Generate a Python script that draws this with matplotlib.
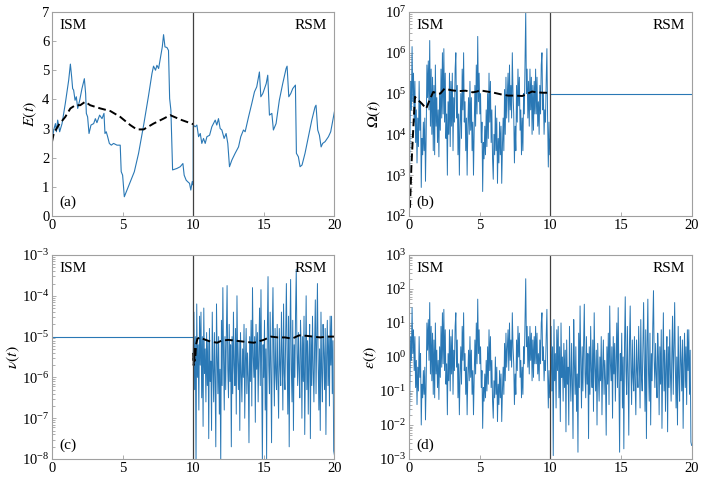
import numpy as np
import matplotlib
matplotlib.use("Agg")
import matplotlib.pyplot as plt

plt.rcParams['font.family'] = ['Liberation Serif', 'DejaVu Serif']
plt.rcParams['mathtext.fontset'] = 'stix'

# ---- data ----
t_switch = 10.0

# (a) energy, ISM part then RSM part
t_E = [0, 0.12, 0.24, 0.31, 0.4, 0.54, 0.71, 0.94, 1.18, 1.30, 1.39, 1.46, 1.53, 1.63, 1.72,
       1.82, 1.96, 2.12, 2.29, 2.38, 2.43, 2.52, 2.62, 2.76, 2.95, 3.07, 3.18, 3.37, 3.54,
       3.68, 3.75, 3.84, 3.94, 4.06, 4.2, 4.36, 4.6, 4.83, 4.9, 5.0, 5.12, 5.26, 5.54, 5.83,
       6.13, 6.49, 6.84, 7.08, 7.19, 7.33, 7.43, 7.55, 7.67, 7.81, 7.9, 8.0, 8.14, 8.25,
       8.33, 8.42, 8.54, 8.84, 9.08, 9.27, 9.36, 9.5, 9.6, 9.74, 9.83, 9.93, 10.0,
       10.0, 10.14, 10.26, 10.38, 10.5, 10.61, 10.73, 10.85, 10.97, 11.16, 11.32, 11.56,
       11.67, 11.79, 11.91, 12.03, 12.19, 12.33, 12.45, 12.57, 12.74, 12.97, 13.21, 13.37,
       13.56, 13.68, 13.92, 14.15, 14.34, 14.5, 14.69, 14.79, 14.93, 15.17, 15.28, 15.4,
       15.57, 15.68, 15.87, 16.1, 16.34, 16.58, 16.65, 16.77, 16.91, 17.05, 17.24, 17.31,
       17.45, 17.57, 17.71, 17.92, 18.16, 18.4, 18.63, 18.7, 18.82, 18.94, 19.06, 19.17,
       19.34, 19.58, 19.74, 20.0]
E_vals = [2.55, 2.95, 3.17, 2.89, 3.29, 2.89, 3.17, 3.86, 4.66, 5.21, 4.77, 4.37, 4.32, 3.97,
          4.09, 3.69, 3.97, 4.37, 4.71, 4.2, 3.52, 3.4, 2.83, 3.12, 3.17, 3.34, 3.2, 3.46,
          3.34, 3.52, 2.83, 2.89, 2.72, 2.49, 2.43, 2.49, 2.43, 2.43, 1.52, 1.4, 0.66, 0.83,
          1.18, 1.52, 2.15, 3.12, 4.14, 4.89, 5.14, 5.0, 5.17, 5.06, 5.4, 5.8, 6.22, 5.8,
          5.78, 5.68, 4.03, 3.63, 1.58, 1.63, 1.69, 1.8, 1.4, 1.23, 1.18, 1.12, 0.89, 1.18,
          1.06,
          3.12, 3.06, 3.12, 2.72, 2.83, 2.49, 2.66, 2.49, 2.72, 2.77, 3.06, 3.29, 3.12, 3.34,
          3.0, 2.95, 2.66, 2.83, 2.49, 1.69, 1.92, 2.15, 2.37, 2.72, 2.95, 2.89, 3.4, 3.86,
          4.26, 4.43, 4.94, 4.09, 4.2, 4.54, 4.83, 3.46, 3.52, 2.95, 3.17, 3.97, 4.54, 5.06,
          5.14, 4.09, 4.2, 4.37, 4.49, 2.15, 2.03, 1.69, 1.75, 2.15, 2.72, 3.29, 3.74, 3.8,
          2.95, 2.77, 2.37, 2.49, 2.55, 2.72, 2.89, 3.57]
t_E_mean = [0, 0.12, 0.47, 0.94, 1.3, 1.65, 2.0, 2.35, 2.7, 3.42, 4.13, 4.83, 5.54, 6.0,
            6.49, 7.19, 7.9, 8.37, 9.08, 10.0]
E_mean = [2.55, 2.83, 3.12, 3.4, 3.69, 3.8, 3.8, 3.92, 3.8, 3.69, 3.6, 3.4, 3.12, 2.97,
          2.97, 3.17, 3.34, 3.46, 3.31, 3.15]

# (b) enstrophy in ISM, log10 values every 0.05 from t=0 to t=10
t_omega = np.round(np.arange(0, 201) * 0.05, 2)
log_omega = [
    2.2, 4.0, 5.3, 4.6, 6.15, 4.8, 5.5, 4.3, 5.3, 3.8, 4.6, 3.3, 4.4, 3.7, 5.3, 4.1, 4.8, 2.7, 3.9, 3.5,
    4.3, 3.6, 4.4, 2.85, 4.0, 5.7, 4.9, 5.8, 4.6, 6.3, 4.2, 5.6, 4.0, 5.4, 3.6, 5.2, 3.5, 5.7, 4.2, 4.9,
    3.8, 4.6, 3.45, 5.0, 4.1, 5.6, 4.4, 6.0, 4.5, 6.1, 4.3, 5.5, 3.9, 4.5, 3.0, 4.8, 4.0, 5.5, 3.7, 5.3,
    4.2, 5.5, 3.6, 4.9, 4.3, 5.6, 6.0, 4.4, 5.2, 3.5, 4.5, 3.0, 4.2, 5.0, 3.9, 5.6, 4.6, 6.0, 4.3, 4.8,
    3.6, 4.4, 3.0, 4.2, 4.9, 4.0, 5.3, 4.1, 4.9, 3.6, 4.3, 3.0, 4.1, 5.2, 4.2, 5.7, 4.5, 6.4, 4.8, 5.5,
    4.5, 5.0, 3.8, 4.3, 2.6, 3.8, 3.4, 4.2, 3.5, 4.6, 3.7, 5.0, 3.9, 5.5, 4.3, 5.3, 3.8, 4.6, 3.4, 2.9,
    4.0, 3.5, 4.7, 3.6, 4.4, 2.8, 3.9, 3.3, 4.3, 3.5, 4.2, 2.8, 3.7, 4.4, 3.6, 5.1, 4.0, 5.4, 4.4, 5.0,
    5.5, 4.3, 5.7, 4.6, 5.2, 4.4, 6.0, 5.0, 4.5, 3.3, 4.2, 3.6, 5.2, 4.3, 5.6, 4.7, 5.4, 4.1, 4.6, 3.5,
    4.4, 3.6, 5.0, 4.5, 5.8, 7.0, 5.0, 5.6, 4.4, 5.3, 4.2, 5.6, 4.6, 5.4, 4.0, 5.2, 4.1, 5.3, 4.5, 5.6,
    4.5, 5.4, 4.2, 4.8, 4.0, 5.2, 4.5, 5.7, 6.0, 4.6, 5.0, 4.0, 4.6, 4.3, 5.3, 6.1, 4.4, 3.2, 4.3, 3.5,
    3.9]
omega_rsm = 1e5
t_omega_mean = [0.05, 0.15, 0.25, 0.4, 0.6, 0.9, 1.2, 1.45, 1.7, 2.0, 2.2, 2.5, 3.0, 3.5, 4.0,
                4.5, 4.8, 5.0, 5.5, 6.0, 6.5, 7.0, 7.5, 8.0, 8.4, 8.7, 9.0, 9.5, 10.0]
log_omega_mean = [2.2, 3.2, 3.9, 4.92, 4.85, 4.75, 4.63, 4.85, 5.04, 5.0, 5.0, 5.12, 5.08, 5.06,
                  5.07, 5.03, 5.05, 5.08, 5.05, 5.02, 4.98, 4.95, 4.95, 4.94, 5.0, 5.05, 5.03,
                  5.02, 5.02]

# (c) viscosity in RSM, log10 values every 0.05 from t=10 to t=20
t_nu = np.round(10 + np.arange(0, 201) * 0.05, 2)
log_nu = [
    -5.4, -4.4, -6.3, -5.0, -8.2, -4.2, -6.0, -5.2, -6.8, -4.5, -5.7, -4.4, -6.5, -5.0, -7.2, -4.3, -5.9, -5.3, -6.6, -4.9,
    -6.2, -5.1, -7.5, -4.8, -6.1, -5.6, -7.3, -4.4, -5.8, -6.6, -4.9, -6.0, -7.7, -4.2, -5.5, -6.4, -5.0, -6.9, -5.8, -8.1,
    -4.6, -6.2, -3.8, -5.5, -6.8, -5.0, -6.3, -4.9, -3.75, -5.8, -6.5, -4.7, -6.1, -5.2, -7.7, -5.0, -6.4, -4.4, -5.7, -6.2,
    -4.8, -6.9, -4.0, -5.6, -6.3, -5.1, -7.3, -4.9, -5.9, -6.6, -5.3, -6.0, -4.7, -7.0, -5.6, -4.8, -6.4, -5.4, -6.0, -7.6,
    -5.0, -6.1, -4.6, -6.7, -3.8, -5.5, -6.0, -5.0, -7.1, -4.7, -5.8, -4.9, -6.6, -5.4, -4.3, -6.2, -3.85, -5.9, -8.1, -5.2,
    -6.0, -4.6, -6.8, -5.3, -8.0, -4.9, -3.53, -5.7, -6.4, -4.4, -5.8, -7.6, -4.9, -3.8, -5.6, -6.7, -4.8, -5.9, -6.3, -4.7,
    -6.1, -7.0, -4.8, -5.7, -6.2, -4.4, -5.5, -6.8, -4.2, -5.9, -6.3, -4.9, -3.7, -5.5, -6.9, -4.5, -7.7, -5.0, -3.6, -5.8,
    -6.6, -4.6, -7.3, -5.2, -6.0, -4.4, -3.35, -5.4, -6.2, -4.9, -5.8, -6.5, -4.6, -5.3, -7.0, -5.0, -6.1, -4.5, -7.4, -5.6,
    -4.0, -6.3, -5.1, -6.9, -5.5, -4.7, -7.5, -5.0, -6.2, -4.5, -5.8, -6.6, -5.2, -4.1, -6.4, -5.0, -3.7, -5.6, -6.8, -5.3,
    -7.3, -4.4, -5.9, -6.6, -4.7, -5.4, -6.3, -4.8, -7.4, -5.5, -4.6, -6.2, -5.0, -6.7, -4.5, -5.7, -4.5, -6.4, -5.1, -7.8,
    -7.9]
nu_ism = 1e-5
t_nu_mean = [10.0, 10.03, 10.06, 10.09, 10.12, 10.15, 10.2, 10.3, 10.5, 10.8, 11.2, 11.7, 12.0,
             12.5, 13.0, 13.5, 14.0, 14.3, 15.0, 15.5, 16.0, 16.5, 17.0, 17.5, 18.0, 18.5,
             19.0, 19.5, 20.0]
log_nu_mean = [-5.4, -5.7, -5.3, -5.6, -5.35, -5.5, -5.2, -5.05, -5.02, -5.07, -5.12, -5.15,
               -5.1, -5.08, -5.1, -5.12, -5.14, -5.15, -5.08, -5.0, -5.02, -5.02, -5.05,
               -4.97, -4.98, -5.0, -5.02, -5.0, -5.0]

# (d) dissipation: eps = 2 nu Omega, with nu fixed in ISM and Omega fixed in RSM
omega = 10.0 ** np.array(log_omega)
nu = 10.0 ** np.array(log_nu)
t_eps = np.concatenate([t_omega, t_nu[1:]])
eps = np.concatenate([2 * nu_ism * omega, 2 * omega_rsm * nu[1:]])

# ---- plotting ----
blue = '#2a78b5'
spine_col = '#a0a0a0'

fig = plt.figure(figsize=(7.05, 4.83), dpi=100)
w, h = 0.4005, 0.4225
ax_a = fig.add_axes([0.0738, 0.5528, w, h])
ax_b = fig.add_axes([0.5805, 0.5528, w, h])
ax_c = fig.add_axes([0.0738, 0.0496, w, h])
ax_d = fig.add_axes([0.5805, 0.0496, w, h])

ax_a.plot(t_E, E_vals, color=blue, lw=0.8)
ax_a.plot(t_E_mean, E_mean, color='black', lw=1.4, ls=(0, (4, 2)))
ax_a.set_ylim(0, 7)
ax_a.set_yticks(range(0, 8))
ax_a.set_ylabel(r'$E(t)$', fontsize=11.5, labelpad=2)

ax_b.plot(t_omega, omega, color=blue, lw=0.7)
ax_b.plot([t_switch, 20], [omega_rsm, omega_rsm], color=blue, lw=0.8)
ax_b.plot(t_omega_mean, 10.0 ** np.array(log_omega_mean), color='black', lw=1.4, ls=(0, (4, 2)))
ax_b.set_yscale('log')
ax_b.set_ylim(1e2, 1e7)
ax_b.set_ylabel(r'$\Omega(t)$', fontsize=11.5, labelpad=1)

ax_c.plot([0, t_switch], [nu_ism, nu_ism], color=blue, lw=0.8)
ax_c.plot(t_nu, nu, color=blue, lw=0.7)
ax_c.plot(t_nu_mean, 10.0 ** np.array(log_nu_mean), color='black', lw=1.4, ls=(0, (4, 2)))
ax_c.set_yscale('log')
ax_c.set_ylim(1e-8, 1e-3)
ax_c.set_ylabel(r'$\nu(t)$', fontsize=11.5, labelpad=0)

ax_d.plot(t_eps, eps, color=blue, lw=0.7)
ax_d.set_yscale('log')
ax_d.set_ylim(1e-3, 1e3)
ax_d.set_ylabel(r'$\varepsilon(t)$', fontsize=11.5, labelpad=0)

for ax, lab in zip([ax_a, ax_b, ax_c, ax_d], ['(a)', '(b)', '(c)', '(d)']):
    ax.set_xlim(0, 20)
    ax.set_xticks([0, 5, 10, 15, 20])
    ax.axvline(t_switch, color='#404040', lw=0.9)
    for s in ax.spines.values():
        s.set_color(spine_col)
        s.set_linewidth(0.8)
    ax.tick_params(direction='in', which='both', length=3, width=0.6, color=spine_col,
                   labelsize=10.5, pad=2)
    ax.tick_params(which='minor', length=2)
    ax.text(0.025, 0.965, 'ISM', transform=ax.transAxes, fontsize=11, va='top', ha='left')
    ax.text(0.975, 0.965, 'RSM', transform=ax.transAxes, fontsize=11, va='top', ha='right')
    ax.text(0.025, 0.035, lab, transform=ax.transAxes, fontsize=11, va='bottom', ha='left')

fig.savefig('out.png', dpi=100)
